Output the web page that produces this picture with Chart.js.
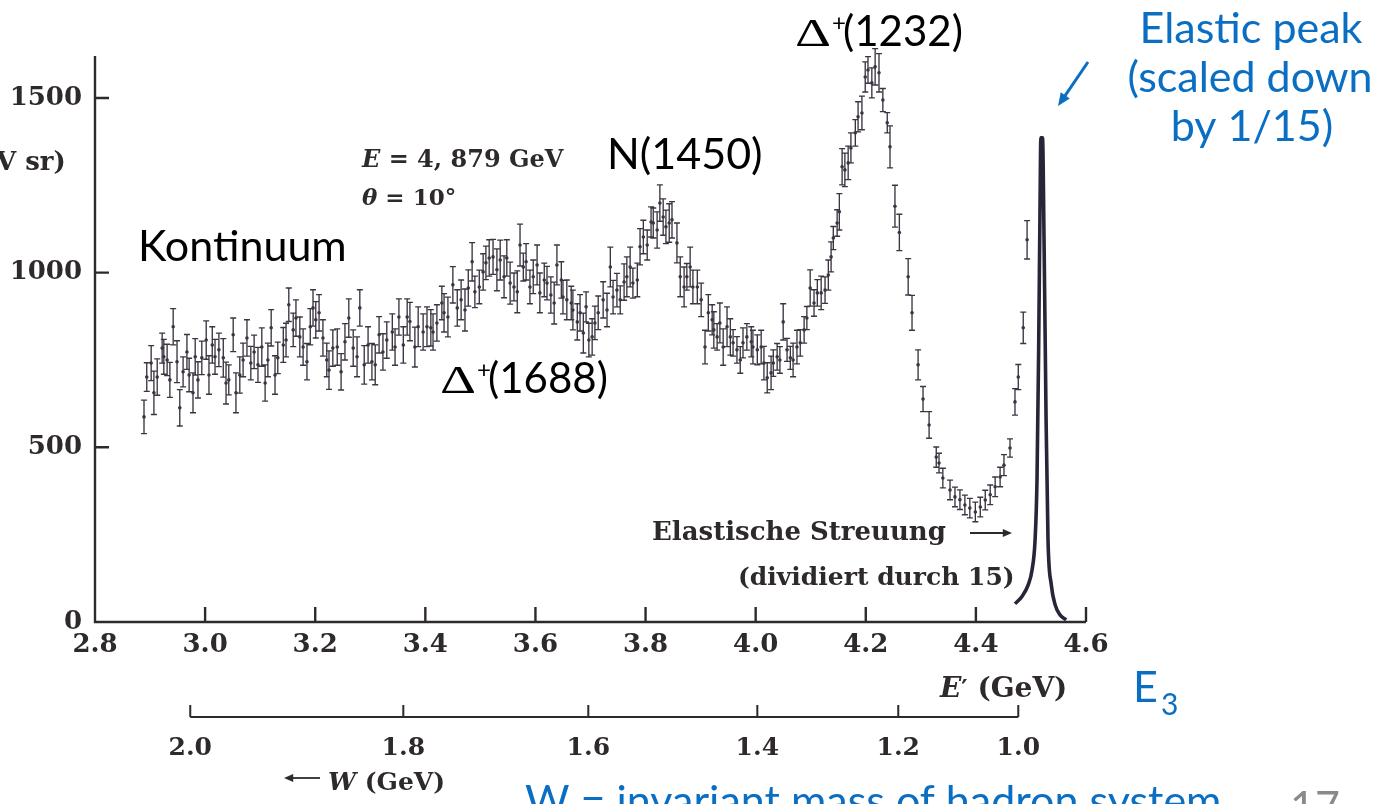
<!DOCTYPE html>
<html>
<head>
<meta charset="utf-8">
<title>Inelastische Elektron-Proton-Streuung</title>
<script src="https://cdn.jsdelivr.net/npm/chart.js@4.4.1/dist/chart.umd.min.js"></script>
<style>
  html, body { margin: 0; padding: 0; background: #fff; }
  #wrap { width: 1393px; height: 804px; }
</style>
</head>
<body>
<div id="wrap"><canvas id="spectrum" width="1393" height="804"></canvas></div>
<script>
// Streuspektrum E' (GeV) -> Wirkungsquerschnitt, mit Fehlerbalken
const ePrime = [
  2.889, 2.894, 2.902, 2.907, 2.913, 2.922, 2.925, 2.931, 2.936, 2.942,
  2.949, 2.954, 2.960, 2.967, 2.971, 2.978, 2.982, 2.987, 2.994, 3.002,
  3.007, 3.013, 3.018, 3.025, 3.033, 3.038, 3.043, 3.051, 3.056, 3.063,
  3.069, 3.076, 3.083, 3.089, 3.096, 3.103, 3.109, 3.114, 3.120, 3.127,
  3.132, 3.142, 3.147, 3.152, 3.160, 3.165, 3.172, 3.178, 3.185, 3.191,
  3.196, 3.201, 3.207, 3.214, 3.221, 3.225, 3.232, 3.240, 3.247, 3.254,
  3.261, 3.269, 3.276, 3.281, 3.289, 3.296, 3.303, 3.309, 3.316, 3.323,
  3.330, 3.340, 3.345, 3.352, 3.360, 3.367,
  3.372, 3.381, 3.387, 3.396, 3.403, 3.410, 3.414, 3.421, 3.430, 3.434,
  3.441, 3.450, 3.458, 3.465, 3.472, 3.478, 3.485, 3.490, 3.498, 3.505,
  3.510, 3.516, 3.523, 3.530, 3.536, 3.543, 3.548, 3.554, 3.561, 3.567,
  3.572, 3.578, 3.583, 3.590, 3.596, 3.603, 3.608, 3.616, 3.621, 3.628,
  3.634, 3.639, 3.647, 3.650, 3.657, 3.665, 3.668, 3.676, 3.681, 3.687,
  3.692, 3.697, 3.703, 3.708, 3.714, 3.723, 3.730, 3.736, 3.741, 3.748,
  3.754, 3.761, 3.766, 3.772, 3.777, 3.785, 3.790, 3.796, 3.803, 3.810,
  3.814, 3.821, 3.826, 3.832, 3.837, 3.843, 3.848, 3.857, 3.863, 3.870,
  3.875, 3.881, 3.886, 3.894, 3.901, 3.908, 3.914, 3.921, 3.924, 3.930,
  3.935, 3.941, 3.948, 3.954, 3.959, 3.966, 3.972, 3.977, 3.984, 3.992,
  3.995, 4.003, 4.010, 4.015, 4.021, 4.028, 4.032, 4.039, 4.044, 4.050,
  4.057, 4.063, 4.068, 4.075, 4.081, 4.088, 4.093, 4.099, 4.106, 4.112,
  4.119, 4.126, 4.132, 4.137, 4.141, 4.148, 4.152, 4.157, 4.162, 4.168,
  4.173, 4.181, 4.186, 4.193, 4.199, 4.204, 4.211, 4.217, 4.224, 4.231,
  4.239, 4.244, 4.253, 4.261, 4.277, 4.284, 4.295, 4.304, 4.315, 4.328,
  4.333, 4.340, 4.353, 4.362, 4.371, 4.380, 4.389, 4.399, 4.408, 4.417,
  4.426, 4.435, 4.444, 4.451, 4.462, 4.471, 4.477, 4.486, 4.493
];

const counts = [
  587, 701, 741, 656, 701, 784, 759, 750, 693, 845,
  745, 613, 716, 773, 707, 656, 759, 693, 756, 807,
  707, 793, 759, 779, 756, 684, 693, 822, 656, 707,
  750, 813, 741, 773, 736, 787, 684, 750, 842, 707,
  756, 793, 807, 908, 836, 870, 816, 787, 745, 845,
  899, 865, 885, 813, 750, 721, 784, 787, 716, 802,
  870, 784, 759, 899, 736, 793, 745, 736, 822, 773,
  807, 830, 787, 873, 793, 873,
  860, 787, 845, 830, 845, 842, 830, 856, 913, 885,
  873, 965, 899, 922, 893, 956, 1031, 945, 959, 1002,
  1028, 1042, 1045, 1008, 1036, 988, 1042, 970, 959, 945,
  1079, 1016, 1031, 959, 988, 1022, 942, 979, 970, 936,
  913, 1022, 979, 930, 922, 913, 893, 859, 885, 827,
  902, 807, 816, 856, 885, 922, 893, 1016, 930, 950,
  922, 973, 988, 1016, 970, 979, 1074, 1102, 1079, 1145,
  1142, 1122, 1199, 1159, 1131, 1142, 1151, 1085, 988, 959,
  988, 1016, 959, 959, 922, 787, 885, 865, 836, 816,
  856, 787, 845, 816, 799, 779, 750, 799, 816, 802,
  787, 779, 787, 741, 699, 713, 741, 759, 750, 859,
  779, 756, 750, 787, 799, 836, 870, 956, 913, 942,
  942, 950, 993, 1045, 1099, 1142, 1174, 1303, 1294, 1314,
  1357, 1400, 1446, 1457, 1560, 1580, 1543, 1589, 1572, 1494,
  1429, 1360, 1190, 1115, 988, 885, 736, 638, 564, 472,
  455, 412, 378, 358, 350, 335, 326, 315, 329, 349,
  364, 387, 415, 449, 498, 630, 701, 842, 1094
];

// halbe Länge der Fehlerbalken
const errors = [
  48, 41, 50, 62, 52, 43, 50, 45, 50, 52,
  60, 52, 43, 50, 48, 57, 52, 52, 48, 55,
  55, 52, 50, 48, 55, 60, 43, 48, 57, 52,
  48, 52, 48, 48, 50, 55, 52, 48, 52, 55,
  45, 50, 48, 48, 48, 52, 57, 52, 52, 52,
  52, 52, 52, 52, 48, 55, 52, 52, 52, 52,
  55, 52, 57, 52, 55, 52, 52, 57, 52, 52,
  52, 52, 52, 52, 52, 52,
  55, 57, 57, 52, 57, 52, 52, 52, 48, 55,
  57, 52, 52, 57, 60, 52, 55, 45, 48, 52,
  48, 52, 50, 60, 57, 60, 52, 60, 40, 60,
  60, 40, 52, 48, 48, 57, 57, 48, 48, 52,
  60, 57, 52, 48, 57, 48, 57, 52, 52, 57,
  43, 48, 52, 48, 48, 52, 48, 57, 48, 48,
  40, 52, 57, 57, 43, 48, 52, 48, 43, 43,
  43, 52, 52, 52, 48, 55, 52, 57, 57, 57,
  38, 57, 48, 48, 48, 48, 52, 43, 52, 38,
  57, 52, 57, 52, 38, 38, 38, 43, 38, 43,
  48, 43, 48, 48, 43, 48, 38, 38, 38, 52,
  33, 33, 48, 48, 38, 38, 33, 52, 38, 38,
  48, 38, 43, 43, 33, 38, 52, 52, 48, 48,
  43, 38, 43, 48, 43, 38, 43, 52, 55, 33,
  29, 60, 60, 52, 52, 50, 43, 36, 38, 29,
  28, 28, 28, 28, 28, 28, 28, 28, 28, 28,
  28, 28, 28, 30, 26, 38, 36, 45, 55
];

// elastischer Peak (durch 15 dividiert)
const elasticE = [4.471, 4.484, 4.495, 4.502, 4.5075, 4.511, 4.514, 4.5166, 4.518, 4.521,
  4.524, 4.5275, 4.531, 4.537, 4.544, 4.553, 4.564];
const elasticCounts = [52, 74, 106, 149, 235, 406, 778, 1208, 1386, 1386,
  1066, 578, 235, 106, 49, 20, 6];

// zweite Achse: invariante Masse W an der entsprechenden Stelle in E'
const wTickLabels = ['2.0', '1.8', '1.6', '1.4', '1.2', '1.0'];
const wTickAt = [2.973, 3.360, 3.696, 4.003, 4.259, 4.477];

const yTicks = [0, 500, 1000, 1500];

const ink = '#3b3441';
const printInk = '#2e292c';
const blue = '#0a6fc2';
const label = '"Lato", "Open Sans", sans-serif';
const serif = (size, style = '') => `${style} bold ${size}px "DejaVu Serif"`;

const points = ePrime.map((e, i) => ({ x: e, y: counts[i] }));
const elastic = elasticE.map((e, i) => ({ x: e, y: elasticCounts[i] }));

function arrow(ctx, x1, y1, x2, y2, head, width) {
  const ang = Math.atan2(y2 - y1, x2 - x1);
  ctx.lineWidth = width;
  ctx.beginPath();
  ctx.moveTo(x1, y1);
  ctx.lineTo(x2 - Math.cos(ang) * head * 0.6, y2 - Math.sin(ang) * head * 0.6);
  ctx.stroke();
  ctx.beginPath();
  ctx.moveTo(x2, y2);
  ctx.lineTo(x2 - head * Math.cos(ang - 0.4), y2 - head * Math.sin(ang - 0.4));
  ctx.lineTo(x2 - head * Math.cos(ang + 0.4), y2 - head * Math.sin(ang + 0.4));
  ctx.closePath();
  ctx.fill();
}

// Text aus Stücken mit wechselnder Schrift hintereinander setzen
function runs(ctx, x, base, parts) {
  parts.forEach(([font, text]) => {
    ctx.font = font;
    ctx.fillText(text, x, base);
    x += ctx.measureText(text).width;
  });
}

function delta(ctx, x, base, mass) {
  ctx.save();
  ctx.translate(x, base);
  ctx.scale(1.4, 1);
  ctx.font = '40px "Liberation Serif"';
  ctx.fillText('Δ', 0, 0);
  ctx.restore();
  ctx.font = `24px ${label}`;
  ctx.fillText('+', x + 37, base - 15);
  ctx.font = `42px ${label}`;
  ctx.fillText(`(${mass})`, x + 48, base);
}

const errorBars = {
  id: 'errorBars',
  beforeDatasetsDraw(chart) {
    const { ctx, scales: { x, y } } = chart;
    ctx.save();
    ctx.strokeStyle = ink;
    ctx.lineWidth = 1.35;
    ctx.beginPath();
    ePrime.forEach((e, i) => {
      const px = x.getPixelForValue(e);
      const top = y.getPixelForValue(counts[i] + errors[i]);
      const bot = y.getPixelForValue(counts[i] - errors[i]);
      ctx.moveTo(px, top); ctx.lineTo(px, bot);
      ctx.moveTo(px - 3, top); ctx.lineTo(px + 3, top);
      ctx.moveTo(px - 3, bot); ctx.lineTo(px + 3, bot);
    });
    ctx.stroke();
    ctx.restore();
  }
};

const frame = {
  id: 'frame',
  afterDraw(chart) {
    const { ctx, chartArea: a, scales: { x, y } } = chart;
    ctx.save();
    ctx.strokeStyle = printInk;
    ctx.fillStyle = printInk;

    // Achsen mit nach innen zeigenden Strichen
    ctx.lineWidth = 2.4;
    ctx.beginPath();
    ctx.moveTo(a.left, a.top);
    ctx.lineTo(a.left, a.bottom);
    ctx.lineTo(a.right, a.bottom);
    x.ticks.forEach(t => {
      const px = x.getPixelForValue(t.value);
      if (px > a.left + 2) { ctx.moveTo(px, a.bottom); ctx.lineTo(px, a.bottom - 15); }
    });
    yTicks.forEach(v => {
      if (v > 0) {
        const py = y.getPixelForValue(v);
        ctx.moveTo(a.left, py); ctx.lineTo(a.left + 14, py);
      }
    });
    ctx.stroke();

    // W-Achse unter der E'-Achse
    const wy = a.bottom + 95;
    const wl = x.getPixelForValue(wTickAt[0]);
    const wr = x.getPixelForValue(wTickAt[wTickAt.length - 1]);
    ctx.lineWidth = 2;
    ctx.beginPath();
    ctx.moveTo(wl, wy); ctx.lineTo(wr, wy);
    wTickAt.forEach(e => {
      const px = x.getPixelForValue(e);
      ctx.moveTo(px, wy); ctx.lineTo(px, wy - 12);
    });
    ctx.stroke();
    ctx.font = serif(25);
    ctx.textAlign = 'center';
    wTickAt.forEach((e, i) => ctx.fillText(wTickLabels[i], x.getPixelForValue(e), wy + 38));
    ctx.textAlign = 'left';

    arrow(ctx, 320, 778, 284, 778, 10, 1.8);
    runs(ctx, 328, 790, [[serif(25, 'italic'), 'W'], [serif(25), ' (GeV)']]);

    runs(ctx, 940, 697, [[serif(28, 'italic'), 'E'], [serif(24), '′'], [serif(28), ' (GeV)']]);

    ctx.font = serif(26);
    ctx.fillText('V sr)', -4, 170);

    runs(ctx, 362, 167, [[serif(24, 'italic'), 'E'], [serif(24), ' = 4, 879 GeV']]);
    runs(ctx, 362, 205, [[serif(23, 'italic'), 'θ'], [serif(23), ' = 10°']]);

    ctx.font = serif(26);
    ctx.fillText('Elastische Streuung', 652, 540);
    arrow(ctx, 970, 533, 1012, 533, 10, 1.8);
    ctx.font = serif(25);
    ctx.fillText('(dividiert durch 15)', 738, 585);

    // Beschriftung der Resonanzen
    ctx.fillStyle = '#000';
    ctx.font = `43px ${label}`;
    ctx.fillText('Kontinuum', 138, 261);
    ctx.fillText('N(1450)', 607, 169);
    delta(ctx, 440, 393, 1688);
    delta(ctx, 795, 46, 1232);

    ctx.fillStyle = blue;
    ctx.strokeStyle = blue;
    ctx.font = `43px ${label}`;
    ctx.textAlign = 'center';
    ctx.fillText('Elastic peak', 1251, 43);
    ctx.fillText('(scaled down', 1250, 92);
    ctx.fillText('by 1/15)', 1252, 141);
    arrow(ctx, 1088, 62, 1058, 106, 14, 3);
    ctx.textAlign = 'left';
    ctx.fillText('E', 1133, 702);
    ctx.font = `30px ${label}`;
    ctx.fillText('3', 1161, 715);
    ctx.font = `43px ${label}`;
    ctx.fillText('W = invariant mass of hadron system', 525, 816);
    ctx.fillStyle = '#8a8a8a';
    ctx.fillText('17', 1290, 822);
    ctx.restore();
  }
};

new Chart(document.getElementById('spectrum'), {
  type: 'scatter',
  data: {
    datasets: [
      {
        label: 'Messpunkte',
        data: points,
        pointRadius: 1.8,
        pointBackgroundColor: ink,
        pointBorderWidth: 0,
        showLine: false
      },
      {
        type: 'line',
        label: 'Elastische Streuung',
        data: elastic,
        borderColor: '#2a2438',
        borderWidth: 3.6,
        pointRadius: 0,
        cubicInterpolationMode: 'monotone',
        fill: false
      }
    ]
  },
  options: {
    responsive: false,
    animation: false,
    devicePixelRatio: 1,
    layout: { padding: { top: 56, right: 307, bottom: 0, left: 0 } },
    plugins: {
      legend: { display: false },
      tooltip: { enabled: false }
    },
    scales: {
      x: {
        type: 'linear',
        min: 2.8,
        max: 4.6,
        afterFit: s => { s.height = 182; },
        grid: { display: false, drawTicks: false },
        border: { display: false },
        ticks: {
          stepSize: 0.2,
          padding: 8,
          color: printInk,
          font: { family: 'DejaVu Serif', size: 26, weight: 'bold' },
          callback: v => Number(v).toFixed(1)
        }
      },
      y: {
        min: 0,
        max: 1620,
        afterFit: s => { s.width = 95; },
        afterBuildTicks: s => { s.ticks = yTicks.map(v => ({ value: v })); },
        grid: { display: false, drawTicks: false },
        border: { display: false },
        ticks: {
          padding: 13,
          color: printInk,
          font: { family: 'DejaVu Serif', size: 26, weight: 'bold' },
          callback: v => String(v)
        }
      }
    }
  },
  plugins: [errorBars, frame]
});
</script>
</body>
</html>
